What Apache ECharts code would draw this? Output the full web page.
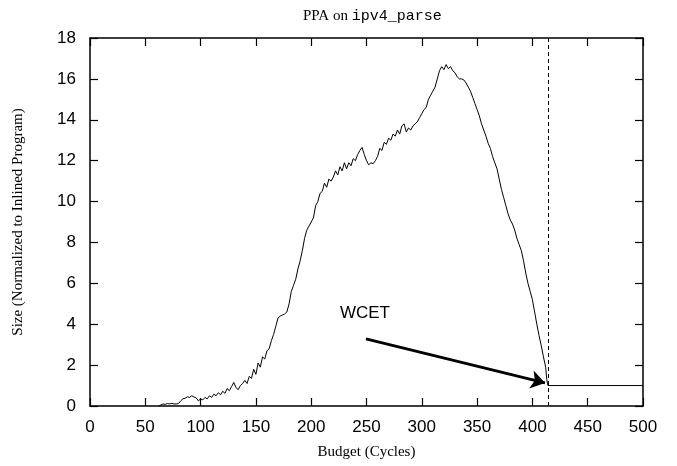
<!DOCTYPE html>
<html>
<head>
<meta charset="utf-8">
<script src="https://cdn.jsdelivr.net/npm/echarts@6/dist/echarts.min.js"></script>
<style>html,body{margin:0;padding:0;background:#fff;}#c{width:677px;height:466px;}</style>
</head>
<body>
<div id="c"></div>
<script>
var budgets = [62,64,66,68,70,72,74,76,78,80,82,84,86,88,90,92,94,96,98,100,
  102,104,106,108,110,112,114,116,118,120,122,124,126,128,130,132,134,136,138,140,
  142,144,146,148,150,152,154,156,158,160,162,164,166,168,170,172,174,176,178,180,
  182,184,186,188,190,192,194,196,198,200,202,204,206,208,210,212,214,216,218,220,
  222,224,226,228,230,232,234,236,238,240,242,244,246,248,250,252,254,256,258,260,
  262,264,266,268,270,272,274,276,278,280,282,284,286,288,290,292,294,296,298,300,
  302,304,306,308,310,312,314,316,318,320,322,324,326,328,330,332,334,336,338,340,
  342,344,346,348,350,352,354,356,358,360,362,364,366,368,370,372,374,376,378,380,
  382,384,386,388,390,392,394,396,398,400,402,404,406,408,410,412,413,414,500];
var sizes = [0.0,0.05,0.1,0.08,0.12,0.1,0.13,0.1,0.1,0.12,0.25,0.35,0.38,0.45,0.42,0.5,0.44,0.4,0.25,0.35,
  0.3,0.42,0.35,0.5,0.42,0.58,0.5,0.65,0.55,0.72,0.62,0.85,0.75,0.95,1.15,0.9,0.8,1.0,1.1,1.25,
  1.1,1.45,1.35,1.8,1.55,2.1,1.9,2.4,2.3,2.7,2.8,3.2,3.5,3.9,4.3,4.4,4.45,4.5,4.6,5.0,
  5.6,5.9,6.2,6.7,7.1,7.6,8.2,8.6,8.8,9.0,9.2,9.8,10.0,10.4,10.5,10.9,10.7,11.1,11.0,11.2,
  11.5,11.3,11.7,11.5,11.9,11.6,11.9,11.75,12.1,12.0,12.3,12.5,12.65,12.3,12.0,11.8,11.9,11.85,12.0,12.2,
  12.6,12.5,12.9,12.8,13.1,13.0,13.3,13.2,13.5,13.3,13.7,13.8,13.4,13.6,13.5,13.7,13.8,13.9,14.1,14.3,
  14.5,14.6,15.0,15.2,15.4,15.6,16.0,16.4,16.6,16.45,16.7,16.5,16.6,16.4,16.3,16.1,16.0,16.0,15.95,15.8,
  15.6,15.4,15.1,14.8,14.5,14.2,13.8,13.5,13.2,12.85,12.6,12.2,11.9,11.6,11.1,10.6,10.2,9.8,9.4,9.1,
  8.9,8.6,8.2,7.9,7.6,7.1,6.5,6.0,5.6,5.2,4.6,4.0,3.45,2.95,2.4,1.9,1.3,1.0,1.0];
var xTicks = [0,50,100,150,200,250,300,350,400,450,500];
var yTicks = [0,2,4,6,8,10,12,14,16,18];
var wcet = 414;
var arrowFrom = [249.5, 3.28];
var arrowTo = [411.4, 1.13];
var wcetLabelAt = [248.6, 4.55];

var chart = echarts.init(document.getElementById('c'), null, {renderer:'canvas'});
var sans = 'Liberation Sans';
var serif = 'Liberation Serif';
function axLine(){ return {show:true, onZero:false, lineStyle:{color:'#000', width:1.5}}; }
function axTick(){ return {show:true, inside:true, length:8, lineStyle:{color:'#000', width:1.2}}; }
var pts = budgets.map(function(b,i){return [b, sizes[i]];});
chart.setOption({
  animation:false,
  backgroundColor:'#fff',
  title:{
    text:'{a|PPA on }{b|ipv4_parse}',
    left:298, top:4,
    textStyle:{fontWeight:'normal', rich:{
      a:{fontFamily:serif, fontSize:15, fontWeight:'normal', color:'#000'},
      b:{fontFamily:'Liberation Mono', fontSize:15, fontWeight:'normal', color:'#000'}
    }}
  },
  grid:{left:90, right:34, top:38, bottom:60, containLabel:false},
  xAxis:[
    {type:'value', gridIndex:0, min:xTicks[0], max:xTicks[xTicks.length-1], interval:50, position:'bottom',
     axisLine:axLine(), axisTick:axTick(), splitLine:{show:false},
     axisLabel:{color:'#000', fontFamily:sans, fontSize:17, margin:13},
     name:'Budget (Cycles)', nameLocation:'middle', nameGap:39,
     nameTextStyle:{fontFamily:serif, fontSize:15, color:'#000'}},
    {type:'value', gridIndex:0, min:xTicks[0], max:xTicks[xTicks.length-1], interval:50, position:'top',
     axisLine:axLine(), axisTick:axTick(), splitLine:{show:false}, axisLabel:{show:false}}
  ],
  yAxis:[
    {type:'value', gridIndex:0, min:yTicks[0], max:yTicks[yTicks.length-1], interval:2, position:'left',
     axisLine:axLine(), axisTick:axTick(), splitLine:{show:false},
     axisLabel:{color:'#000', fontFamily:sans, fontSize:17, margin:14},
     name:'Size (Normalized to Inlined Program)', nameLocation:'middle', nameGap:64, nameRotate:90,
     nameTextStyle:{fontFamily:serif, fontSize:15, color:'#000'}},
    {type:'value', gridIndex:0, min:yTicks[0], max:yTicks[yTicks.length-1], interval:2, position:'right',
     axisLine:axLine(), axisTick:axTick(), splitLine:{show:false}, axisLabel:{show:false}}
  ],
  series:[
    {type:'line', data:pts, showSymbol:false, symbol:'none',
     lineStyle:{color:'#000', width:1}, silent:true,
     markPoint:{symbol:'circle', symbolSize:0, silent:true,
       label:{show:true, position:'inside', formatter:'WCET', color:'#000', fontFamily:sans, fontSize:17},
       data:[{coord:wcetLabelAt}]}},
    {type:'line', data:[], silent:true, xAxisIndex:1, yAxisIndex:1,
     markLine:{silent:true, symbol:['none','none'], label:{show:false},
       lineStyle:{color:'#000', type:[4,3], width:1},
       data:[{xAxis:wcet}]}},
    {type:'line', data:[], silent:true,
     markLine:{silent:true, symbol:['none','arrow'], symbolSize:14, label:{show:false},
       lineStyle:{color:'#000', type:'solid', width:2.8},
       data:[[{coord:arrowFrom},{coord:arrowTo}]]}}
  ]
});
</script>
</body>
</html>
